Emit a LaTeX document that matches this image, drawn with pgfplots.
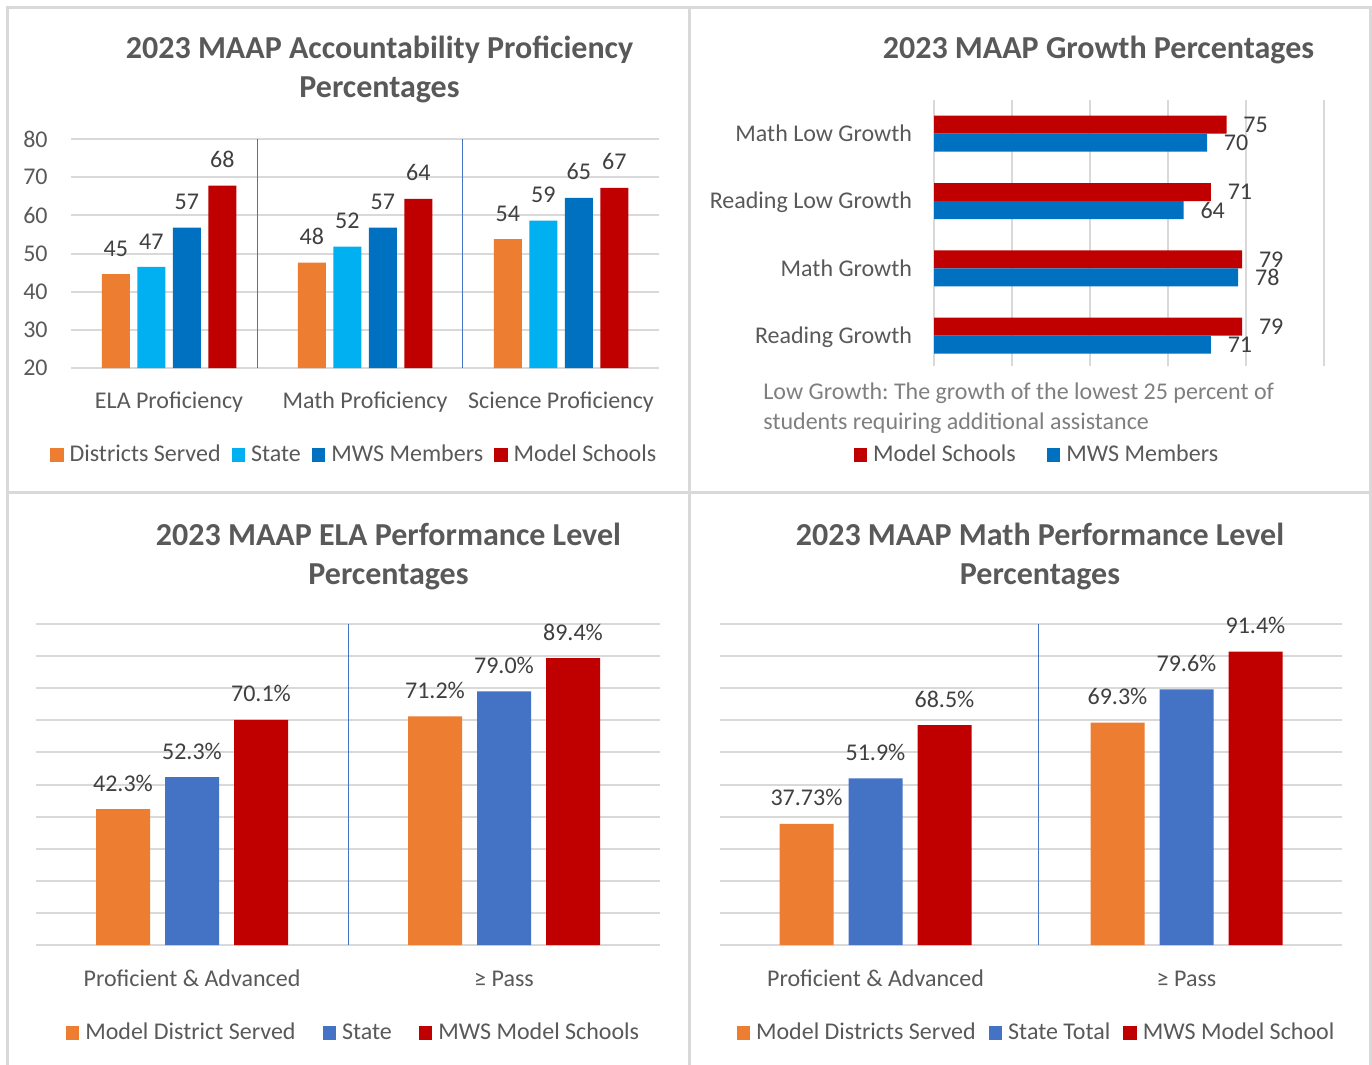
\documentclass[border=0pt]{standalone}
\usepackage{pgfplots}
\pgfplotsset{compat=1.18}
\usepackage{fontspec}
\setmainfont{Carlito}
\frenchspacing
\definecolor{cOrange}{HTML}{ED7D31}
\definecolor{cCyan}{HTML}{00B0F0}
\definecolor{cDark}{HTML}{0070C0}
\definecolor{cRed}{HTML}{C00000}
\definecolor{cBlue}{HTML}{4472C4}
\definecolor{gridgray}{HTML}{D9D9D9}
\definecolor{tickgray}{HTML}{595959}
\definecolor{labgray}{HTML}{404040}
\definecolor{notegray}{HTML}{7F7F7F}
\definecolor{sepblue}{HTML}{4472C4}
\newcommand{\lbl}{\fontsize{12}{14.6}\selectfont}
\newcommand{\ttl}{\fontsize{16}{19.5}\selectfont\bfseries}
\pgfplotsset{
  /pgf/number format/assume math mode=true,
  sqlegend/.style={legend image code/.code={\fill[##1] (0pt,-3.4pt) rectangle (6.75pt,3.4pt);}},
  base/.style={
    scale only axis, anchor=south west,
    axis line style={draw=none},
    tick style={draw=none},
    major grid style={draw=gridgray, line width=1pt},
    tick label style={font=\lbl, text=tickgray},
    every node near coord/.append style={font=\lbl, text=labgray, inner sep=0pt},
    legend columns=-1,
    legend style={draw=none, fill=none, inner sep=0pt, font=\lbl, text=tickgray, anchor=center,
      nodes={inner xsep=3pt, inner ysep=0pt}},
    clip=false,
  },
  finish/.style={every axis plot post/.append style={sqlegend}},
}
\begin{document}
\begin{tikzpicture}
\useasboundingbox (0pt,0pt) rectangle (686pt,-532.5pt);
\fill[white] (0pt,0pt) rectangle (686pt,-532.5pt);
\draw[gridgray, line width=1.5pt] (3.5pt,-532.5pt) -- (3.5pt,-4pt) -- (685pt,-4pt) -- (685pt,-532.5pt);
\draw[gridgray, line width=1.5pt] (344.5pt,-4pt) -- (344.5pt,-532.5pt);
\draw[gridgray, line width=1.5pt] (3.5pt,-246pt) -- (685pt,-246pt);

% Panel 1
\begin{axis}[base,
  at={(35.5pt,-184pt)}, width=294pt, height=114.5pt,
  ybar=3.75pt, bar width=14pt,
  xmin=-0.5, xmax=2.5, ymin=20, ymax=80,
  xtick={0,1,2}, xticklabels={ELA Proficiency, Math Proficiency, Science Proficiency},
  xticklabel style={anchor=base, inner sep=0pt, yshift=-16pt},
  ytick={20,30,...,80},
  yticklabel style={anchor=east, inner sep=0pt, xshift=-11.5pt},
  ymajorgrids,
  extra x ticks={0.454,1.495}, extra x tick labels={},
  extra x tick style={grid=major, major grid style={draw=sepblue, line width=0.5pt}},
  nodes near coords={\pgfmathprintnumber[fixed,precision=0]{\pgfplotspointmeta}},
  every node near coord/.append style={anchor=south, yshift=8.7pt},
  legend style={at={(0.485,-0.380)}, /tikz/every even column/.append style={column sep=2.5pt}},
  finish,
]
\addplot[fill=cOrange, draw=none] coordinates {(0,44.6) (1,47.6) (2,53.8)};
\addplot[fill=cCyan, draw=none] coordinates {(0,46.5) (1,51.8) (2,58.6)};
\addplot[fill=cDark, draw=none] coordinates {(0,56.8) (1,56.8) (2,64.6)};
\addplot[fill=cRed, draw=none] coordinates {(0,67.8) (1,64.3) (2,67.2)};
\legend{Districts Served, State, MWS Members, Model Schools}
\end{axis}

% Panel 2
\begin{axis}[base,
  at={(467pt,-183pt)}, width=195pt, height=133pt,
  xbar, bar width=9pt,
  xmin=0, xmax=100, ymin=-0.45, ymax=3.5,
  xtick={0,20,...,100}, xticklabel=\empty,
  xmajorgrids,
  ytick={0,1,2,3}, yticklabels={Reading Growth, Math Growth, Reading Low Growth, Math Low Growth},
  yticklabel style={anchor=base east, inner sep=0pt, xshift=-6.5pt, yshift=-3.85pt},
  point meta=x,
  nodes near coords={\pgfmathprintnumber[fixed,precision=0]{\pgfplotspointmeta}},
  every node near coord/.append style={anchor=west, xshift=8.25pt},
  legend style={at={(0.269,-0.335)}, /tikz/every even column/.append style={column sep=12.5pt}},
  finish,
]
\addplot[fill=cRed, draw=none, bar shift=4.5pt] coordinates {(75,3) (71,2) (79,1) (79,0)};
\addplot[fill=cDark, draw=none, bar shift=-4.5pt] coordinates {(70,3) (64,2) (78,1) (71,0)};
\legend{Model Schools, MWS Members}
\end{axis}

% Panel 3
\begin{axis}[base,
  at={(18pt,-472.5pt)}, width=312pt, height=160.5pt,
  ybar=7.5pt, bar width=27pt,
  xmin=-0.5, xmax=1.5, ymin=0, ymax=100,
  xtick={0,1}, xticklabels={Proficient \& Advanced, ≥ Pass},
  xticklabel style={anchor=base, inner sep=0pt, yshift=-16.5pt},
  ytick={0,10,...,100}, yticklabel=\empty,
  ymajorgrids,
  extra x ticks={0.5}, extra x tick labels={},
  extra x tick style={grid=major, major grid style={draw=sepblue, line width=0.5pt}},
  point meta=explicit symbolic,
  nodes near coords,
  every node near coord/.append style={anchor=south, yshift=8.7pt},
  legend style={at={(0.512,-0.274)}, /tikz/every even column/.append style={column sep=10.5pt}},
  finish,
]
\addplot[fill=cOrange, draw=none] coordinates {(0,42.3) [42.3\%] (1,71.2) [71.2\%]};
\addplot[fill=cBlue, draw=none] coordinates {(0,52.3) [52.3\%] (1,79.0) [79.0\%]};
\addplot[fill=cRed, draw=none] coordinates {(0,70.1) [70.1\%] (1,89.4) [89.4\%]};
\legend{Model District Served, State, MWS Model Schools}
\end{axis}

% Panel 4
\begin{axis}[base,
  at={(360pt,-472.5pt)}, width=311pt, height=160.5pt,
  ybar=7.5pt, bar width=27pt,
  xmin=-0.5, xmax=1.5, ymin=0, ymax=100,
  xtick={0,1}, xticklabels={Proficient \& Advanced, ≥ Pass},
  xticklabel style={anchor=base, inner sep=0pt, yshift=-16.5pt},
  ytick={0,10,...,100}, yticklabel=\empty,
  ymajorgrids,
  extra x ticks={0.523}, extra x tick labels={},
  extra x tick style={grid=major, major grid style={draw=sepblue, line width=0.5pt}},
  point meta=explicit symbolic,
  nodes near coords,
  every node near coord/.append style={anchor=south, yshift=8.7pt},
  legend style={at={(0.512,-0.274)}, /tikz/every even column/.append style={column sep=3.5pt}},
  finish,
]
\addplot[fill=cOrange, draw=none] coordinates {(0,37.73) [37.73\%] (1,69.3) [69.3\%]};
\addplot[fill=cBlue, draw=none] coordinates {(0,51.9) [51.9\%] (1,79.6) [79.6\%]};
\addplot[fill=cRed, draw=none] coordinates {(0,68.5) [68.5\%] (1,91.4) [91.4\%]};
\legend{Model Districts Served, State Total, MWS Model School}
\end{axis}

% Titles and note
\tikzset{ttlnode/.style={font=\ttl, text=tickgray, anchor=base}}
\node[ttlnode] at (189.75pt,-29.5pt) {2023 MAAP Accountability Proficiency};
\node[ttlnode] at (189.75pt,-49pt) {Percentages};
\node[ttlnode] at (549.25pt,-29.5pt) {2023 MAAP Growth Percentages};
\node[ttlnode] at (194.25pt,-272.5pt) {2023 MAAP ELA Performance Level};
\node[ttlnode] at (194.25pt,-292pt) {Percentages};
\node[ttlnode] at (520pt,-272.5pt) {2023 MAAP Math Performance Level};
\node[ttlnode] at (520pt,-292pt) {Percentages};
\node[font=\lbl, text=notegray, anchor=base west, inner sep=0pt] at (381.5pt,-199.5pt) {Low Growth: The growth of the lowest 25 percent of};
\node[font=\lbl, text=notegray, anchor=base west, inner sep=0pt] at (381.5pt,-214.5pt) {students requiring additional assistance};
\end{tikzpicture}
\end{document}
